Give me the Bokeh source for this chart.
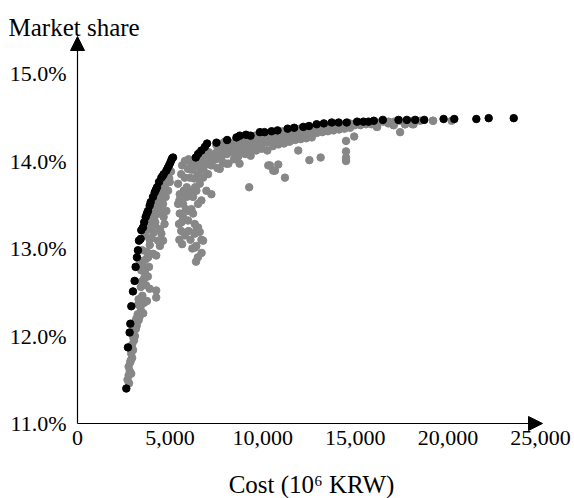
from bokeh.plotting import figure
from bokeh.models import Range1d, Arrow, NormalHead
from bokeh.core.properties import value
from bokeh.embed import file_html
from bokeh.resources import INLINE

# ---------------- data ----------------
x_ticks = [0, 5000, 10000, 15000, 20000, 25000]
x_tick_labels = ["0", "5,000", "10,000", "15,000", "20,000", "25,000"]
y_ticks = [11, 12, 13, 14, 15]
y_tick_labels = ["11.0%", "12.0%", "13.0%", "14.0%", "15.0%"]
y_title = "Market share"
x_title = "Cost (10\u2076 KRW)"

# Pareto-front solutions (black)
black_x = [2635, 2723, 2814, 2851, 2905, 2994, 3084, 3138, 3210, 3264, 3318, 3409,
           3444, 3535, 3600, 3680, 3750, 3806, 3896, 3950, 4076, 4166, 4230, 4293,
           4401, 4527, 4600, 4654, 4798, 4870, 4942, 5010, 5068, 5110, 5158,
           6385, 6511, 6692, 6872, 6998, 7503, 8080, 8585, 8766, 9100, 9344, 9848,
           10100, 10481, 10800, 11347, 11700, 12192, 12500, 12915, 13300, 13727,
           14100, 14539, 15100, 15440, 15711, 16000, 16487, 17332, 17784, 18235,
           18722, 19767, 20345, 21536, 22202, 23555]
black_y = [11.40, 11.87, 12.04, 12.14, 12.34, 12.51, 12.63, 12.79, 12.90, 12.98, 13.09, 13.11,
           13.21, 13.24, 13.30, 13.36, 13.40, 13.43, 13.49, 13.53, 13.59, 13.64, 13.67, 13.70,
           13.76, 13.81, 13.83, 13.85, 13.89, 13.92, 13.95, 13.98, 14.01, 14.03, 14.04,
           14.04, 14.08, 14.12, 14.16, 14.20, 14.21, 14.24, 14.27, 14.29, 14.30, 14.29, 14.33,
           14.33, 14.34, 14.35, 14.37, 14.38, 14.39, 14.40, 14.42, 14.43, 14.44,
           14.44, 14.44, 14.45, 14.45, 14.45, 14.46, 14.47, 14.47, 14.47, 14.47,
           14.47, 14.48, 14.48, 14.48, 14.49, 14.49]

# Other evaluated solutions (grey)
grey_x = [
    # first strand
    2700, 2760, 2820, 2760, 2900, 2850, 2950, 2900, 3000, 2950, 3050, 3100, 3000, 3150,
    3200, 3100, 3300, 3350, 3250, 3450, 3550, 3400, 3600, 3750, 3300, 3500, 4250, 4250,
    3900, 3700, 3450, 3600, 3800, 3450, 3860, 3550, 3350, 3700, 4250, 4080, 3750, 3500,
    4450, 3900, 4350, 4620, 3900, 3650, 4530, 4100, 3800, 4450, 3990, 4700, 4200, 3900,
    4650, 4170, 4050, 4440, 4800, 4300, 4620, 4260, 4100, 4440, 4760, 4530, 4350, 4890,
    4600, 4980, 4760, 4900, 5050, 4500, 2780, 2870, 3020, 3180, 3280, 3420, 3650, 3820,
    4000, 4180, 4380, 4560, 4720, 4950,
    # second strand
    5430, 5520, 5430, 5520, 5480, 5700, 5700, 5740, 5790, 5970, 6060, 6150, 6330, 5880,
    5970, 5970, 6240, 6330, 6420, 6330, 6510, 6780, 6330, 6150, 6240, 6420, 6600, 6690,
    6510, 6960, 7230, 6780, 7050, 6600, 6960, 7230, 7410, 6420, 6690, 6600, 5600, 5500,
    5650, 5800, 6000, 6100, 6200, 6500, 6400, 6700, 5900, 6100, 6300, 6500, 6200, 5600,
    5650, 5800, 6000, 6450, 6700, 6900, 6600, 7100, 6800, 7300, 5500, 5620, 5850, 6050,
    6350, 6550, 6850, 7150,
    # dense band
    7500, 7520, 7480, 7550, 7800, 7820, 7780, 7850, 8100, 8120, 8080, 8150, 8400, 8380,
    8420, 8450, 8700, 8680, 8720, 8750, 9000, 8980, 9020, 9050, 9300, 9280, 9320, 9350,
    9600, 9580, 9620, 9650, 9900, 9880, 9920, 9950, 10200, 10180, 10220, 10250, 10500,
    10480, 10520, 10550, 10800, 10780, 10820, 10850, 11100, 11080, 11120, 11150, 11400,
    11380, 11420, 11450, 11700, 11680, 11720, 11750, 12000, 11980, 12020, 12050, 12300,
    12280, 12320, 12350, 12600, 12580, 12620, 12650, 12900, 12880, 12920, 13200, 13180,
    13220, 13500, 13480, 13520, 13800, 13780, 13820, 14100, 14080, 14120, 14400, 14380,
    14420, 14700, 14680, 14720, 15000, 14980, 15300, 15280, 15600, 15580, 15900, 15880,
    16200, 16180, 16500, 16800, 16780, 17100, 17080, 17400, 17700, 17680, 18100, 18080,
    18500, 19200, 20200, 7650, 7950, 8250, 8550, 8850, 9150, 9450, 9750, 10050, 10350,
    10650, 10950, 11250, 11550, 11850, 12150, 12450, 12750, 13050, 13350, 13650, 13950,
    14250, 14550, 14850, 15150, 15450,
    # scattered points below the band
    9310, 10300, 10660, 10840, 11200, 11920, 12520, 13130, 14500, 14500, 14500, 14500,
    14940, 17420, 9270, 10390, 10570, 8680, 7680, 8040, 9130, 18150, 17690, 17060, 16160,
    19190,
]
grey_y = [
    # first strand
    11.50, 11.55, 11.60, 11.65, 11.57, 11.70, 11.75, 11.80, 11.84, 11.90, 11.95, 12.00, 12.05, 12.08,
    12.12, 12.16, 12.18, 12.22, 12.25, 12.28, 12.26, 12.33, 12.38, 12.40, 12.42, 12.46, 12.44, 12.52,
    12.54, 12.58, 12.62, 12.66, 12.68, 12.75, 12.79, 12.80, 12.86, 12.88, 12.92, 12.94, 12.96, 12.98,
    13.03, 13.04, 13.09, 13.09, 13.10, 13.15, 13.17, 13.18, 13.22, 13.22, 13.25, 13.28, 13.30, 13.33,
    13.36, 13.37, 13.42, 13.43, 13.43, 13.47, 13.51, 13.52, 13.56, 13.59, 13.59, 13.64, 13.66, 13.66,
    13.70, 13.76, 13.78, 13.83, 13.88, 13.72, 11.46, 11.72, 11.98, 12.20, 12.36, 12.56, 12.72, 12.90,
    13.12, 13.27, 13.40, 13.55, 13.70, 13.80,
    # second strand
    13.74, 13.62, 13.51, 13.40, 13.28, 13.36, 13.51, 13.66, 13.81, 13.91, 13.81, 13.97, 14.01, 13.59,
    13.43, 13.32, 13.40, 13.28, 13.21, 13.17, 13.24, 13.09, 13.01, 13.45, 13.59, 13.66, 13.74, 13.55,
    13.51, 13.66, 13.62, 13.81, 13.85, 13.93, 13.97, 13.95, 14.04, 13.03, 13.10, 13.19, 13.20, 13.10,
    13.05, 13.15, 13.20, 13.10, 13.00, 12.90, 12.85, 12.95, 13.70, 13.65, 13.80, 13.85, 13.90, 13.85,
    13.95, 14.00, 14.02, 13.95, 14.00, 14.06, 14.10, 14.10, 13.90, 14.00, 13.55, 13.30, 13.45, 13.60,
    13.70, 13.80, 13.95, 14.05,
    # dense band
    14.18, 14.10, 14.02, 13.92, 14.20, 14.12, 14.05, 13.98, 14.22, 14.16, 14.08, 13.97, 14.21, 14.15,
    14.10, 14.02, 14.25, 14.18, 14.12, 13.97, 14.26, 14.20, 14.14, 14.08, 14.27, 14.22, 14.15, 14.06,
    14.29, 14.24, 14.18, 14.12, 14.30, 14.25, 14.20, 14.14, 14.31, 14.27, 14.21, 14.12, 14.32,
    14.28, 14.23, 14.17, 14.33, 14.29, 14.24, 14.19, 14.34, 14.30, 14.26, 14.20, 14.35,
    14.31, 14.27, 14.22, 14.36, 14.32, 14.28, 14.24, 14.37, 14.33, 14.29, 14.25, 14.38,
    14.34, 14.30, 14.26, 14.39, 14.35, 14.31, 14.27, 14.40, 14.36, 14.32, 14.41, 14.37,
    14.33, 14.41, 14.38, 14.34, 14.42, 14.39, 14.35, 14.42, 14.39, 14.36, 14.42, 14.40,
    14.37, 14.43, 14.40, 14.38, 14.43, 14.41, 14.43, 14.41, 14.44, 14.42, 14.44, 14.42,
    14.44, 14.39, 14.45, 14.45, 14.43, 14.45, 14.41, 14.46, 14.45, 14.42, 14.46, 14.42,
    14.46, 14.46, 14.46, 14.16, 14.22, 14.19, 14.24, 14.22, 14.25, 14.26, 14.27, 14.28, 14.30,
    14.31, 14.32, 14.33, 14.34, 14.35, 14.36, 14.37, 14.38, 14.39, 14.40, 14.40, 14.41,
    14.41, 14.42, 14.42, 14.43, 14.43,
    # scattered points below the band
    14.08, 13.95, 13.89, 13.96, 13.81, 14.12, 14.01, 14.04, 14.23, 14.11, 14.04, 14.00,
    14.28, 14.33, 13.70, 13.95, 13.89, 14.05, 13.91, 13.97, 14.14, 14.42, 14.42, 14.41, 14.39,
    14.46,
]

# ---------------- layout constants (pixels of the canvas) ----------------
W, H = 574, 498
X0_PX, X25K_PX = 77, 540          # canvas x of value 0 and of 25,000
Y11_PX, Y15_PX = 423, 73          # canvas y (from top) of 11 % and 15 %
sx = (X25K_PX - X0_PX) / 25000.0  # px per data unit
sy = (Y11_PX - Y15_PX) / 4.0

def dx(px):  # canvas px -> data x
    return (px - X0_PX) / sx

def dy(py):  # canvas px (from top) -> data y
    return 11.0 + (Y11_PX - py) / sy

FONT = "Liberation Serif"

p = figure(width=W, height=H, output_backend="svg", toolbar_location=None,
           x_range=Range1d(dx(0), dx(W)), y_range=Range1d(dy(H), dy(0)),
           x_axis_location=None, y_axis_location=None, min_border=0)
p.outline_line_color = None
p.xgrid.visible = False
p.ygrid.visible = False
p.background_fill_color = "white"
p.border_fill_color = "white"

p.scatter(grey_x, grey_y, size=7.5, fill_color="#878787", line_color="#878787")
p.scatter(black_x, black_y, size=7.5, fill_color="black", line_color="black")

# axes with arrow heads
x_tip = dx(542)
y_tip = dy(36)
p.add_layout(Arrow(x_start=0, y_start=11.0, x_end=0, y_end=y_tip,
                   line_color="black", line_width=1.2,
                   end=NormalHead(size=14, fill_color="black", line_color="black")))
p.add_layout(Arrow(x_start=0, y_start=11.0, x_end=x_tip, y_end=11.0,
                   line_color="black", line_width=1.2,
                   end=NormalHead(size=14, fill_color="black", line_color="black")))

# tick labels
p.text(x=x_ticks, y=[dy(Y11_PX + 7)] * len(x_ticks), text=x_tick_labels,
       text_align="center", text_baseline="top", text_font=value(FONT),
       text_font_size="22px", text_color="black")
p.text(x=[dx(X0_PX - 11)] * len(y_ticks), y=y_ticks, text=y_tick_labels,
       text_align="right", text_baseline="middle", text_font=value(FONT),
       text_font_size="22px", text_color="black")

# axis titles
p.text(x=[dx(8)], y=[dy(27)], text=[y_title], text_align="left",
       text_baseline="alphabetic", text_font=value(FONT),
       text_font_size="25px", text_color="black")
p.text(x=[dx(311)], y=[dy(484)], text=[x_title], text_align="center",
       text_baseline="middle", text_font=value(FONT),
       text_font_size="25px", text_color="black")

open("out.html", "w").write(file_html(p, INLINE))
